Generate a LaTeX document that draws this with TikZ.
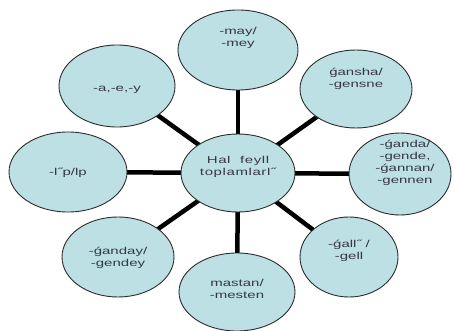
\documentclass[tikz,border=0pt]{standalone}
\usepackage{fontspec}
\usetikzlibrary{shapes.geometric,backgrounds}
\newfontfamily\bubfont[FakeStretch=1.5]{Liberation Sans}
\newfontfamily\hubfont[FakeStretch=1.5,LetterSpace=6]{Liberation Sans}
\definecolor{bubfill}{RGB}{188,224,228}
\definecolor{bubline}{RGB}{45,45,45}
\definecolor{bubtext}{RGB}{55,55,72}
\tikzset{
  bub/.style={ellipse, draw=bubline, line width=0.9pt, fill=bubfill, inner sep=0pt},
  lbl/.style={align=center, text=bubtext, inner sep=0pt,
    font=\bubfont\fontsize{10}{12}\selectfont},
  hublbl/.style={lbl, font=\hubfont\fontsize{10}{12}\selectfont},
  spoke/.style={line width=4.5pt, black}
}
\begin{document}
\begin{tikzpicture}[x=1pt,y=-1pt]
\useasboundingbox (0,0) rectangle (454,331);

% ellipses: centre, then width/height
\node[bub, minimum width=114pt, minimum height=78pt] (hub)    at (238,173) {};
\node[bub, minimum width=120pt, minimum height=80pt] (may)    at (238,50)  {};
\node[bub, minimum width=112pt, minimum height=78pt] (gansha) at (356,89)  {};
\node[bub, minimum width=102pt, minimum height=82pt] (ganda)  at (400,174) {};
\node[bub, minimum width=98pt,  minimum height=80pt] (gali)   at (349,257) {};
\node[bub, minimum width=116pt, minimum height=78pt] (mastan) at (237,292) {};
\node[bub, minimum width=112pt, minimum height=80pt] (ganday) at (118,257) {};
\node[bub, minimum width=118pt, minimum height=80pt] (ip)     at (68,172)  {};
\node[bub, minimum width=116pt, minimum height=82pt] (aey)    at (117,86)  {};

% spokes from the hub, behind the ellipses
\begin{scope}[on background layer]
  \fill[white] (0,0) rectangle (454,331);
  \foreach \n in {may,gansha,ganda,gali,mastan,ganday,ip,aey}
    \draw[spoke] (hub.center) -- (\n.center);
\end{scope}

% labels
\node[hublbl] (thub)    at (238,167) {Hal\ \ feyll\\toplamlarl˝};
\node[lbl]    (tmay)    at (238,38)  {-may/\\-mey};
\node[lbl]    (tgansha) at (356,79)  {ǵansha/\\-gensne};
\node[lbl]    (tganda)  at (405,163) {-ǵanda/\\-gende,\\-ǵannan/\\-gennen};
\node[lbl]    (tgali)   at (349,251) {-ǵall˝ /\\-gell};
\node[lbl]    (tmastan) at (237,289) {mastan/\\-mesten};
\node[lbl]    (tganday) at (118,258) {-ǵanday/\\-gendey};
\node[lbl]    (tip)     at (68,173)  {-l˝p/lp};
\node[lbl]    (taey)    at (117,90)  {-a,-e,-y};
\end{tikzpicture}
\end{document}
